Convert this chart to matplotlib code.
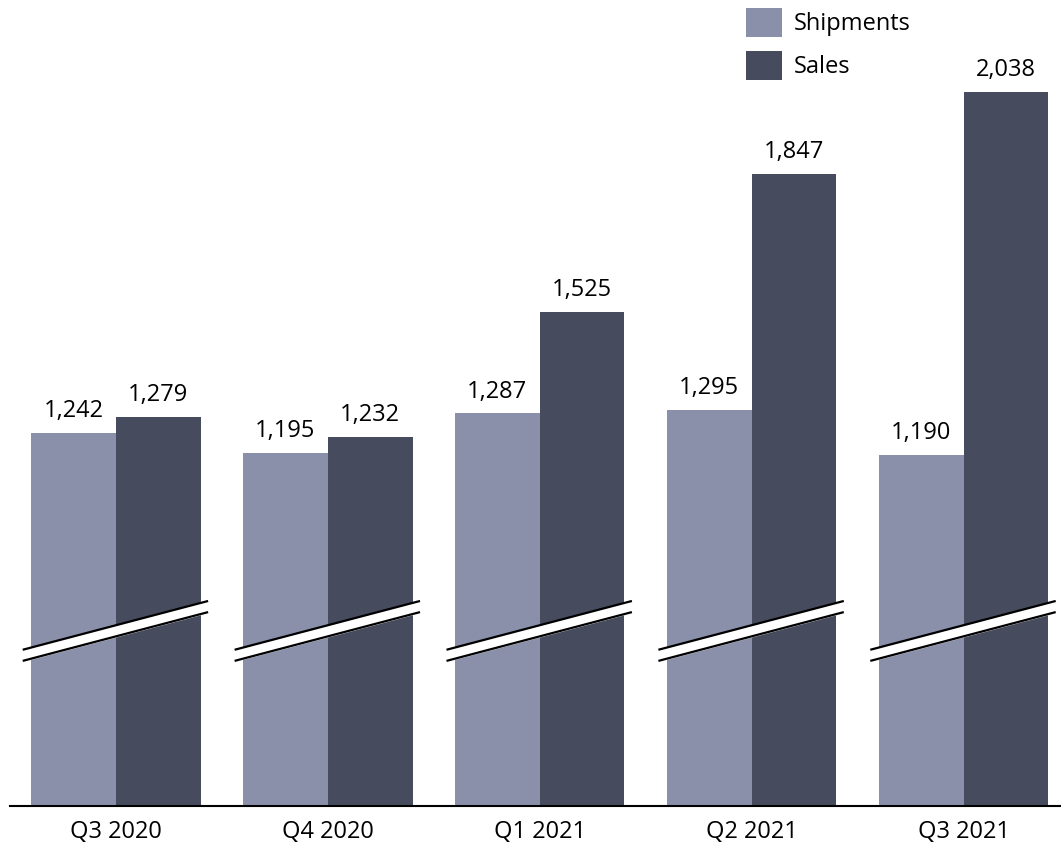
import matplotlib.pyplot as plt
import numpy as np

plt.rcParams['font.family'] = ['Open Sans', 'DejaVu Sans']

quarters = ['Q3 2020', 'Q4 2020', 'Q1 2021', 'Q2 2021', 'Q3 2021']
shipments = [1242, 1195, 1287, 1295, 1190]
sales = [1279, 1232, 1525, 1847, 2038]

c_ship = '#8b90aa'
c_sales = '#464c5e'

fig = plt.figure(figsize=(10.61, 8.5), dpi=100)
ax = fig.add_axes([10 / 1061, 44 / 850, 1 - 10 / 1061, 806 / 850])

x = np.arange(len(quarters))
w = 0.4
b1 = ax.bar(x - w / 2, shipments, w, color=c_ship, label='Shipments')
b2 = ax.bar(x + w / 2, sales, w, color=c_sales, label='Sales')

for bars, vals in ((b1, shipments), (b2, sales)):
    for r, v in zip(bars, vals):
        ax.annotate(f'{v:,}', (r.get_x() + r.get_width() / 2, v),
                    xytext=(0, 7), textcoords='offset points',
                    ha='center', va='bottom', fontsize=17)

# axis break marks
for xi in x:
    xs = np.array([xi - 0.44, xi + 0.435])
    lo = np.array([709, 823])
    hi = np.array([735, 849])
    ax.fill_between(xs, lo, hi, color='white', zorder=3)
    ax.plot(xs, lo, color='black', lw=1.6, zorder=4, solid_capstyle='butt')
    ax.plot(xs, hi, color='black', lw=1.6, zorder=4, solid_capstyle='butt')

ax.set_xlim(-0.5, 4.46)
ax.set_ylim(370, 2253)
ax.set_xticks(x)
ax.set_xticklabels(quarters, fontsize=17)
ax.tick_params(axis='x', length=0, pad=10)
ax.set_yticks([])
for s in ['top', 'right', 'left']:
    ax.spines[s].set_visible(False)
ax.spines['bottom'].set_linewidth(1.5)

ax.legend(loc='upper left', bbox_to_anchor=(724 / 1051, 1 + 4 / 806), frameon=False,
          fontsize=17, handlelength=1.55, handleheight=1.5,
          labelspacing=0.6, handletextpad=0.5, borderaxespad=0.1)

fig.savefig('out.png', dpi=100)
